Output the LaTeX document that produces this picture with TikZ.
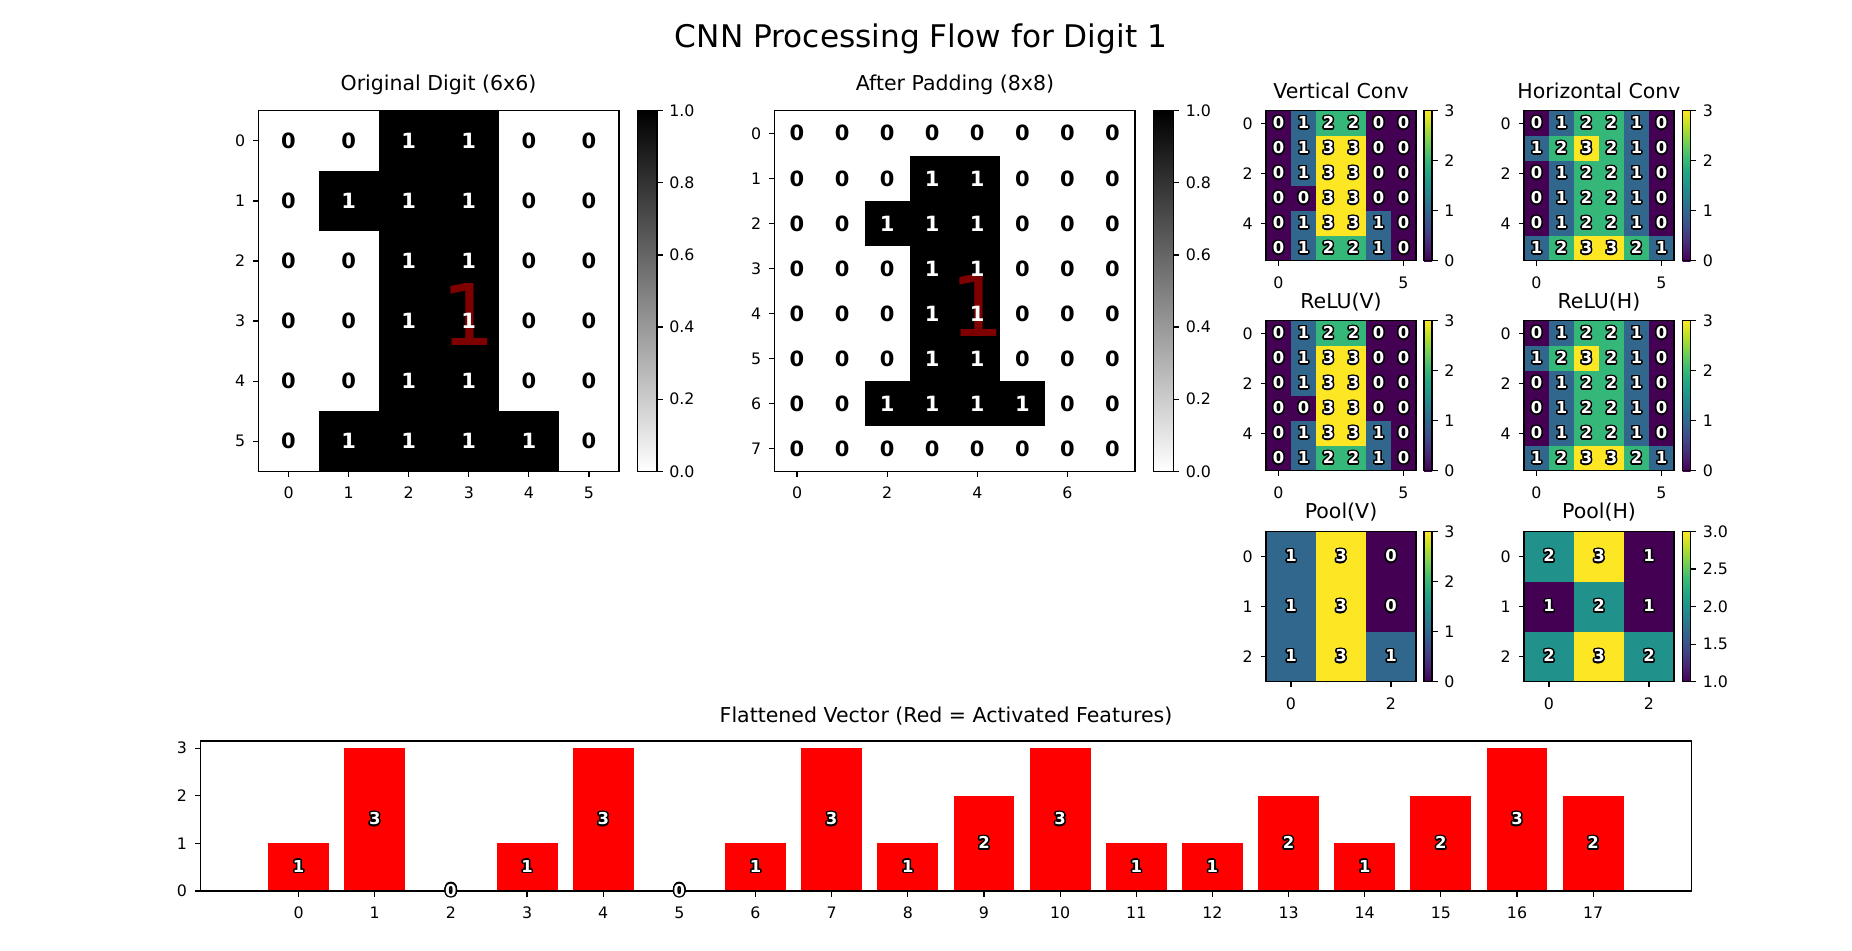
\documentclass[tikz,border=0pt]{standalone}
\usepackage{fontspec}
\setmainfont{DejaVu Sans}
\usepackage[copies]{contour}
\contourlength{0.75pt}

\definecolor{vir0}{HTML}{440154}
\definecolor{vir1}{HTML}{31678D}
\definecolor{vir2}{HTML}{35B779}
\definecolor{vir3}{HTML}{FDE725}
\definecolor{vih1}{HTML}{440154}
\definecolor{vih2}{HTML}{21918C}
\definecolor{vih3}{HTML}{FDE725}
\definecolor{bw0}{RGB}{255,255,255}
\definecolor{bw1}{RGB}{0,0,0}
\definecolor{bwtxt0}{RGB}{0,0,0}
\definecolor{bwtxt1}{RGB}{255,255,255}
\definecolor{digitred}{RGB}{127,0,0}
\definecolor{barred}{RGB}{255,0,0}
% viridis stops for the colour bars
\definecolor{vs0}{HTML}{440154}
\definecolor{vs1}{HTML}{482475}
\definecolor{vs2}{HTML}{414487}
\definecolor{vs3}{HTML}{355F8D}
\definecolor{vs4}{HTML}{2A788E}
\definecolor{vs5}{HTML}{21918C}
\definecolor{vs6}{HTML}{22A884}
\definecolor{vs7}{HTML}{42BE71}
\definecolor{vs8}{HTML}{7AD151}
\definecolor{vs9}{HTML}{BBDF27}
\definecolor{vs10}{HTML}{FDE725}

\newcommand{\origrows}{{0,0,1,1,0,0},{0,1,1,1,0,0},{0,0,1,1,0,0},{0,0,1,1,0,0},{0,0,1,1,0,0},{0,1,1,1,1,0}}
\newcommand{\padrows}{{0,0,0,0,0,0,0,0},{0,0,0,1,1,0,0,0},{0,0,1,1,1,0,0,0},{0,0,0,1,1,0,0,0},{0,0,0,1,1,0,0,0},{0,0,0,1,1,0,0,0},{0,0,1,1,1,1,0,0},{0,0,0,0,0,0,0,0}}
\newcommand{\vconvrows}{{0,1,2,2,0,0},{0,1,3,3,0,0},{0,1,3,3,0,0},{0,0,3,3,0,0},{0,1,3,3,1,0},{0,1,2,2,1,0}}
\newcommand{\hconvrows}{{0,1,2,2,1,0},{1,2,3,2,1,0},{0,1,2,2,1,0},{0,1,2,2,1,0},{0,1,2,2,1,0},{1,2,3,3,2,1}}
\newcommand{\vpoolrows}{{1,3,0},{1,3,0},{1,3,1}}
\newcommand{\hpoolrows}{{2,3,1},{1,2,1},{2,3,2}}

\tikzset{
  axline/.style={line width=0.6pt},
  ticklab/.style={font=\fontsize{7.9}{9}\selectfont, inner sep=0pt},
  paneltitle/.style={font=\fontsize{10.25}{12}\selectfont, anchor=base, inner sep=0pt},
  maintitle/.style={font=\fontsize{15.6}{19}\selectfont, anchor=base, inner sep=0pt},
  bignum/.style={font=\fontsize{10.5}{12}\selectfont\bfseries, inner sep=0pt},
  smallnum/.style={font=\fontsize{8.2}{10}\selectfont\bfseries, text=white, inner sep=0pt},
  bigdigit/.style={font=\fontsize{42.5}{50}\selectfont, text=digitred, inner sep=0pt},
}

% black/white cells
\newcommand{\bwcells}[4]{%
  \foreach \row [count=\i from 0] in #4 {
    \foreach \v [count=\j from 0] in \row {
      \fill[fill=bw\v] ({#1+\j*#3},{#2+\i*#3}) rectangle ++({#3+0.4},{#3+0.4});
    }
  }
}
\newcommand{\bwnums}[5]{%
  \foreach \row [count=\i from 0] in #4 {
    \foreach \v [count=\j from 0] in \row {
      \node[bignum, text=bwtxt\v] (#5-\i-\j) at ({#1+(\j+0.5)*#3},{#2+(\i+0.5)*#3}) {\v};
    }
  }
}
% viridis cells with outlined numbers
\newcommand{\heatgrid}[6]{%
  \foreach \row [count=\i from 0] in #5 {
    \foreach \v [count=\j from 0] in \row {
      \fill[fill=#4\v] ({#1+\j*#3},{#2+\i*#3}) rectangle ++({#3+0.4},{#3+0.4});
      \node[smallnum] (#6-\i-\j) at ({#1+(\j+0.5)*#3},{#2+(\i+0.5)*#3}) {\contour{black}{\v}};
    }
  }
  \draw[axline] (#1,#2) rectangle ++(150,150);
}
% tick marks and labels of a grid
\newcommand{\axticks}[7]{%
  \foreach \t in {#5} {
    \draw[axline] ({#1+(\t+0.5)*#3},{#2+#4}) -- ++(0,5.5);
    \node[ticklab, anchor=north] (#7x\t) at ({#1+(\t+0.5)*#3},{#2+#4+15.5}) {\t};
  }
  \foreach \t in {#6} {
    \draw[axline] (#1,{#2+(\t+0.5)*#3}) -- ++(-5.5,0);
    \node[ticklab, anchor=east] (#7y\t) at ({#1-13},{#2+(\t+0.5)*#3}) {\t};
  }
}
\newcommand{\virbar}[3]{%
  \foreach \k [evaluate=\k as \n using int(\k+1)] in {0,...,9} {
    \shade[bottom color=vs\k, top color=vs\n] (#1,{#3-(#3-#2)*\k/10+0.3}) rectangle ({#1+8},{#3-(#3-#2)*\n/10});
  }
  \draw[axline] (#1,#2) rectangle ({#1+8},#3);
}
\newcommand{\cbticks}[6]{%
  \foreach \val/\lab [count=\c] in {#5} {
    \draw[axline] (#1,{#2-(\val-#4)*#3}) -- ++(5.5,0);
    \node[ticklab, anchor=west] (#6\c) at ({#1+12},{#2-(\val-#4)*#3}) {\lab};
  }
}

\begin{document}
\begin{tikzpicture}[x=0.5pt, y=-0.5pt]
\useasboundingbox (0,0) rectangle (1852,951);
\fill[white] (0,0) rectangle (1852,951);

\node[maintitle] (title) at (921,48) {CNN Processing Flow for Digit 1};

% original digit
\node[paneltitle] (t-orig) at (438.5,91) {Original Digit (6x6)};
\bwcells{258.5}{110.8}{60.08}{\origrows}
\node[bigdigit] (d-orig) at (469,314.5) {1};
\bwnums{258.5}{110.8}{60.08}{\origrows}{o}
\draw[axline] (258.5,110.8) rectangle (619,471.3);
\axticks{258.5}{110.8}{60.08}{360.5}{0,...,5}{0,...,5}{ot}
\shade[bottom color=white, top color=black] (637.5,110.8) rectangle (657,471.3);
\draw[axline] (637.5,110.8) rectangle (657,471.3);
\cbticks{657}{471.3}{360.5}{0}{0/0.0,0.2/0.2,0.4/0.4,0.6/0.6,0.8/0.8,1/1.0}{ocb}

% padded digit
\node[paneltitle] (t-pad) at (955,91) {After Padding (8x8)};
\bwcells{774.5}{110.8}{45.06}{\padrows}
\node[bigdigit] (d-pad) at (978,306) {1};
\bwnums{774.5}{110.8}{45.06}{\padrows}{p}
\draw[axline] (774.5,110.8) rectangle (1135,471.3);
\axticks{774.5}{110.8}{45.06}{360.5}{0,2,4,6}{0,...,7}{pt}
\shade[bottom color=white, top color=black] (1153.5,110.8) rectangle (1173.5,471.3);
\draw[axline] (1153.5,110.8) rectangle (1173.5,471.3);
\cbticks{1173.5}{471.3}{360.5}{0}{0/0.0,0.2/0.2,0.4/0.4,0.6/0.6,0.8/0.8,1/1.0}{pcb}

% convolutions
\node[paneltitle] (t-vconv) at (1341,98.2) {Vertical Conv};
\heatgrid{1266}{110.8}{25}{vir}{\vconvrows}{vc}
\axticks{1266}{110.8}{25}{150}{0,5}{0,2,4}{vct}
\virbar{1424}{110.8}{260.8}
\cbticks{1432}{260.8}{50}{0}{0/0,1/1,2/2,3/3}{vccb}

\node[paneltitle] (t-hconv) at (1599,98.2) {Horizontal Conv};
\heatgrid{1524}{110.8}{25}{vir}{\hconvrows}{hc}
\axticks{1524}{110.8}{25}{150}{0,5}{0,2,4}{hct}
\virbar{1682.5}{110.8}{260.8}
\cbticks{1690.5}{260.8}{50}{0}{0/0,1/1,2/2,3/3}{hccb}

% relu
\node[paneltitle] (t-vrelu) at (1341,308.2) {ReLU(V)};
\heatgrid{1266}{320.8}{25}{vir}{\vconvrows}{vr}
\axticks{1266}{320.8}{25}{150}{0,5}{0,2,4}{vrt}
\virbar{1424}{320.8}{470.8}
\cbticks{1432}{470.8}{50}{0}{0/0,1/1,2/2,3/3}{vrcb}

\node[paneltitle] (t-hrelu) at (1599,308.2) {ReLU(H)};
\heatgrid{1524}{320.8}{25}{vir}{\hconvrows}{hr}
\axticks{1524}{320.8}{25}{150}{0,5}{0,2,4}{hrt}
\virbar{1682.5}{320.8}{470.8}
\cbticks{1690.5}{470.8}{50}{0}{0/0,1/1,2/2,3/3}{hrcb}

% pooling
\node[paneltitle] (t-vpool) at (1341,519) {Pool(V)};
\heatgrid{1266}{531.6}{50}{vir}{\vpoolrows}{vp}
\axticks{1266}{531.6}{50}{150}{0,2}{0,1,2}{vpt}
\virbar{1424}{531.6}{681.6}
\cbticks{1432}{681.6}{50}{0}{0/0,1/1,2/2,3/3}{vpcb}

\node[paneltitle] (t-hpool) at (1599,519) {Pool(H)};
\heatgrid{1524}{531.6}{50}{vih}{\hpoolrows}{hp}
\axticks{1524}{531.6}{50}{150}{0,2}{0,1,2}{hpt}
\virbar{1682.5}{531.6}{681.6}
\cbticks{1690.5}{681.6}{75}{1}{1/1.0,1.5/1.5,2/2.0,2.5/2.5,3/3.0}{hpcb}

% flattened vector
\node[paneltitle] (t-flat) at (946,722) {Flattened Vector (Red = Activated Features)};
\foreach \v [count=\k from 0] in {1,3,0,1,3,0,1,3,1,2,3,1,1,2,1,2,3,2} {
  \fill[barred] ({298.6+76.15*\k-30.46},891) rectangle ({298.6+76.15*\k+30.46},{891-47.62*\v});
}
\draw[axline] (200.4,741) rectangle (1691.7,891);
\foreach \k in {0,...,17} {
  \draw[axline] ({298.6+76.15*\k},891) -- ++(0,5.5);
  \node[ticklab, anchor=north] (bx\k) at ({298.6+76.15*\k},906.5) {\k};
}
\foreach \v in {0,...,3} {
  \draw[axline] (200.4,{891-47.62*\v}) -- ++(-5.5,0);
  \node[ticklab, anchor=east] (by\v) at (187.4,{891-47.62*\v}) {\v};
}
\foreach \v [count=\k from 0] in {1,3,0,1,3,0,1,3,1,2,3,1,1,2,1,2,3,2} {
  \node[smallnum] (bv\k) at ({298.6+76.15*\k},{891-23.81*\v}) {\contour{black}{\v}};
}

\end{tikzpicture}
\end{document}
